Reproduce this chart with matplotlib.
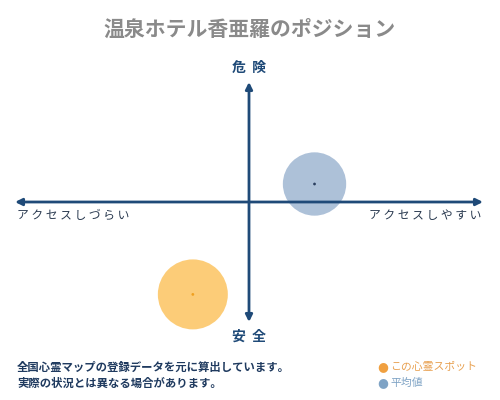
import matplotlib
matplotlib.use("Agg")
import matplotlib.pyplot as plt

plt.rcParams['font.family'] = ['Noto Sans CJK JP', 'DejaVu Sans']

title = "温泉ホテル香亜羅のポジション"
x_labels = ["アクセスしづらい", "アクセスしやすい"]
y_labels = ["安全", "危険"]
series_names = ["この心霊スポット", "平均値"]
series_x = [-0.24, 0.28]
series_y = [-0.77, 0.15]
series_colors = ["#FCC461", "#9FB6D2"]
dot_colors = ["#F0A020", "#2A3F5F"]
notes = ["全国心霊マップの登録データを元に算出しています。", "実際の状況とは異なる場合があります。"]

W, H = 500, 400
fig = plt.figure(figsize=(5, 4), dpi=100)
fig.patch.set_facecolor("white")

# axes region in pixels: x 15..483, y 82..322
x0, x1, yt, yb = 15, 483, 82, 322
ax = fig.add_axes([x0 / W, 1 - yb / H, (x1 - x0) / W, (yb - yt) / H])
ax.set_xlim(-1, 1)
ax.set_ylim(-1, 1)
ax.axis("off")

navy = "#1F4A78"
cx = (249 - x0) / (x1 - x0) * 2 - 1
ax.annotate("", xy=(1, 0), xytext=(-1, 0), zorder=6,
            arrowprops=dict(arrowstyle="<|-|>", color=navy, lw=2, mutation_scale=10, shrinkA=0, shrinkB=0))
ax.annotate("", xy=(cx, 1), xytext=(cx, -1), zorder=6,
            arrowprops=dict(arrowstyle="<|-|>", color=navy, lw=2, mutation_scale=10, shrinkA=0, shrinkB=0))

sizes = [2540, 2080]
for xv, yv, c, dc, s in zip(series_x, series_y, series_colors, dot_colors, sizes):
    ax.scatter([xv], [yv], s=s, color=c, alpha=0.85, edgecolors="none", zorder=3, clip_on=False)
    ax.scatter([xv], [yv], s=4, color=dc, edgecolors="none", zorder=4, clip_on=False)

fig.text(250 / W, 1 - 29 / H, title, ha="center", va="center", fontsize=15,
         color="#8A8A8A", fontweight="bold")
fig.text(249 / W, 1 - 68 / H, "  ".join(y_labels[1]), ha="center", va="center",
         fontsize=10, color=navy, fontweight="bold")
fig.text(249 / W, 1 - 337 / H, "  ".join(y_labels[0]), ha="center", va="center",
         fontsize=10, color=navy, fontweight="bold")
fig.text(17 / W, 1 - 215 / H, " ".join(x_labels[0]), ha="left", va="center",
         fontsize=8.5, color="#2A3A50")
fig.text(481 / W, 1 - 215 / H, " ".join(x_labels[1]), ha="right", va="center",
         fontsize=8.5, color="#2A3A50")

fig.text(17 / W, 1 - 367 / H, notes[0], ha="left", va="center", fontsize=8.2,
         color="#1F3A5F", fontweight="bold")
fig.text(17 / W, 1 - 383 / H, notes[1], ha="left", va="center", fontsize=8.2,
         color="#1F3A5F", fontweight="bold")

leg_cols = ["#F0A040", "#7FA3C5"]
leg_text_cols = ["#E8A050", "#7FA3C5"]
for i, (name, c, tc) in enumerate(zip(series_names, leg_cols, leg_text_cols)):
    yy = 1 - (367 + 16 * i) / H
    fig.text(377 / W, yy, "●", ha="left", va="center", fontsize=9, color=c,
             family=["DejaVu Sans"])
    fig.text(390 / W, yy, name, ha="left", va="center", fontsize=7.8, color=tc)

fig.savefig("out.png", dpi=100, facecolor="white")
